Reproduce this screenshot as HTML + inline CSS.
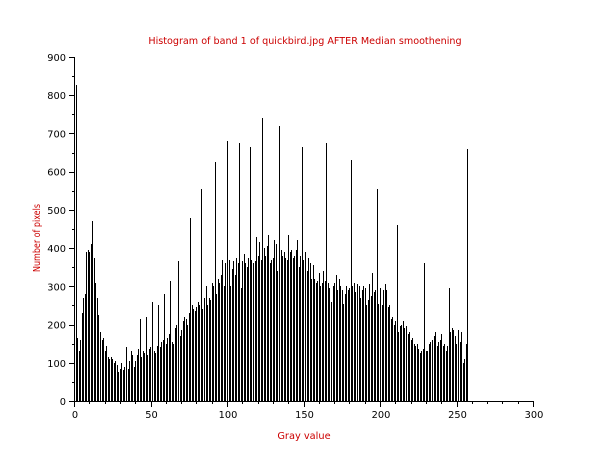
<!DOCTYPE html>
<html><head><meta charset="utf-8"><style>
body{margin:0;background:#fff;font-family:"DejaVu Sans",sans-serif}
svg{display:block}
</style></head><body>
<svg id="chart" width="610" height="460" xmlns="http://www.w3.org/2000/svg">
<rect width="610" height="460" fill="#fff"/>
<text x="305" y="44" font-size="9.6" fill="#cc0000" text-anchor="middle" font-family="DejaVu Sans, sans-serif">Histogram of band 1 of quickbird.jpg AFTER Median smoothening</text>
<text x="304" y="439" font-size="9.8" fill="#cc0000" text-anchor="middle" font-family="DejaVu Sans, sans-serif">Gray value</text>
<text transform="translate(40,238) rotate(-90)" font-size="9.8" textLength="68" lengthAdjust="spacingAndGlyphs" fill="#cc0000" text-anchor="middle" font-family="DejaVu Sans, sans-serif">Number of pixels</text>
<g id="bars" shape-rendering="crispEdges"></g>
<g id="axes" shape-rendering="crispEdges"></g>
</svg>
<script>
const counts = [828,165,130,160,230,270,280,390,395,390,
410,470,375,310,270,225,180,160,165,130,
145,115,110,115,110,100,105,95,75,85,
100,80,90,140,85,105,130,120,90,105,
120,135,215,115,130,125,220,120,135,140,
260,130,125,145,250,140,155,160,280,150,
165,175,315,155,150,190,200,365,170,185,
210,220,215,200,230,480,250,240,235,245,
260,250,555,240,270,300,250,270,265,310,
300,625,280,320,310,330,370,300,360,680,
370,300,345,365,330,375,360,675,295,365,
385,360,350,375,665,370,360,365,430,380,
415,370,740,400,380,405,435,360,370,375,
420,410,340,720,395,380,390,375,370,435,
390,395,375,380,395,420,350,380,665,370,
390,340,375,360,320,355,320,310,315,335,
300,310,340,315,675,310,295,260,300,310,
330,290,320,300,290,255,280,300,290,295,
630,300,310,285,305,300,270,290,300,295,
250,265,305,275,335,285,290,555,255,295,
250,290,305,290,245,250,215,220,200,210,
460,180,195,200,210,190,195,175,180,160,
165,150,145,150,135,125,130,135,360,130,
130,150,155,160,170,180,145,155,160,175,
145,150,130,145,295,180,190,185,170,150,
185,155,180,100,110,150,660];
const xTicks = [0,50,100,150,200,250,300];
const yTicks = [0,100,200,300,400,500,600,700,800,900];
const X0=75,X1=534,Y0=401,Y1=57;
const xs = v => X0 + v*(X1-X0)/300;
const ys = v => Y0 - v*(Y0-Y1)/900;
const NS="http://www.w3.org/2000/svg";
const bars=document.getElementById('bars');
counts.forEach((c,i)=>{
  const r=document.createElementNS(NS,'rect');
  const top=Math.round(ys(c));
  r.setAttribute('x',Math.round(xs(i)+0.5));
  r.setAttribute('y',top);
  r.setAttribute('width',1);
  r.setAttribute('height',Y0-top);
  r.setAttribute('fill','#000');
  
  
  bars.appendChild(r);
});
const ax=document.getElementById('axes');
function line(x1,y1,x2,y2,name){
  const l=document.createElementNS(NS,'line');
  l.setAttribute('x1',x1);l.setAttribute('y1',y1);l.setAttribute('x2',x2);l.setAttribute('y2',y2);
  l.setAttribute('stroke','#000');l.setAttribute('stroke-width','1');
  
  
  ax.appendChild(l);
}
function text(x,y,s,anchor,name){
  const t=document.createElementNS(NS,'text');
  t.setAttribute('x',x);t.setAttribute('y',y);t.setAttribute('font-size','9.8');
  t.setAttribute('text-anchor',anchor);t.setAttribute('fill','#000');
  t.setAttribute('font-family','DejaVu Sans, sans-serif');
  t.textContent=s;
  
  
  ax.appendChild(t);
}
line(X0-0.5,Y1,X0-0.5,Y0+0.5,'y-axis-line');
line(X0-0.5,Y0+0.5,X1,Y0+0.5,'x-axis-line');
for(let v=0;v<=300;v+=10){const x=Math.round(xs(v))-0.5;line(x,Y0,x,Y0+(v%50===0?6:3),'x-tick');}
for(let v=0;v<=900;v+=50){const y=Math.round(ys(v))+0.5;line(X0-(v%100===0?6:3),y,X0,y,'y-tick');}
xTicks.forEach(v=>text(xs(v),Y0+17,String(v),'middle','x-tick-label'));
yTicks.forEach(v=>text(X0-9,ys(v)+4,String(v),'end','y-tick-label'));
</script>
</body></html>
